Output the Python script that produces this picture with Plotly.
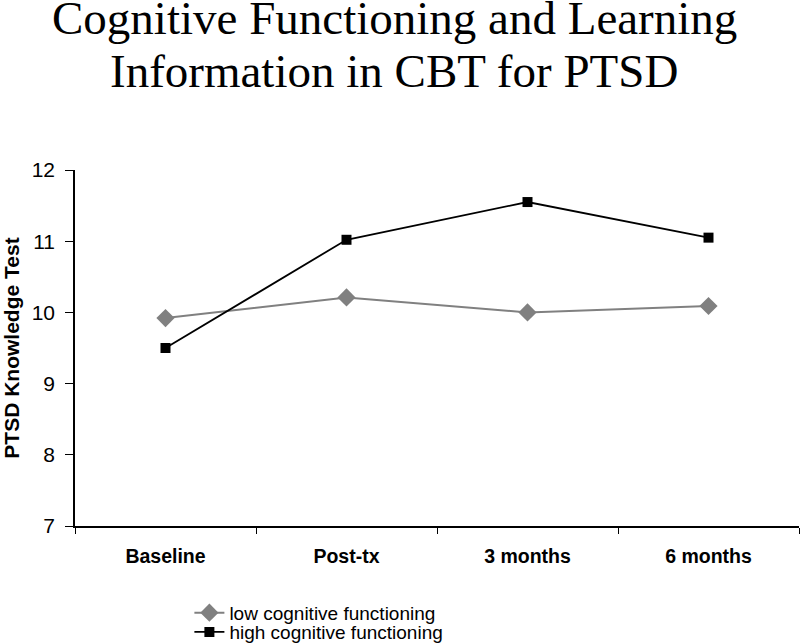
"""PTSD知識テストの推移グラフ。"""

import plotly.graph_objects as go

categories = ["Baseline", "Post-tx", "3 months", "6 months"]
low_cognitive = [9.92, 10.21, 10.00, 10.09]
high_cognitive = [9.50, 11.02, 11.55, 11.05]
y_ticks = [7, 8, 9, 10, 11, 12]
title_lines = ["Cognitive Functioning and Learning", "Information in CBT for PTSD"]

SANS = "Liberation Sans, Arial, sans-serif"
SERIF = "Liberation Serif, Times New Roman, serif"

fig = go.Figure()

fig.add_trace(
    go.Scatter(
        x=categories,
        y=low_cognitive,
        name="low cognitive functioning",
        mode="lines+markers",
        line=dict(color="#808080", width=2),
        marker=dict(symbol="diamond", size=14, color="#808080"),
        legend="legend",
    )
)
fig.add_trace(
    go.Scatter(
        x=categories,
        y=high_cognitive,
        name="high cognitive functioning",
        mode="lines+markers",
        line=dict(color="#000000", width=1.8),
        marker=dict(symbol="square", size=10, color="#000000"),
        legend="legend2",
    )
)

# タイトル: 行間を合わせるため1行ずつ注釈で配置
for text, ypos in zip(title_lines, [1.505, 1.356]):
    fig.add_annotation(
        text=text,
        xref="paper",
        yref="paper",
        x=0.441,
        y=ypos,
        xanchor="center",
        yanchor="top",
        showarrow=False,
        font=dict(family=SERIF, size=47, color="black"),
    )

legend_common = dict(
    x=0.158,
    xanchor="left",
    yanchor="middle",
    font=dict(family=SANS, size=19, color="black"),
    itemwidth=30,
    bgcolor="rgba(0,0,0,0)",
)

fig.update_layout(
    width=800,
    height=643,
    paper_bgcolor="white",
    plot_bgcolor="white",
    margin=dict(l=75, r=1, t=170, b=117, autoexpand=False),
    xaxis=dict(
        type="category",
        range=[-0.5, 3.5],
        automargin=False,
        tickangle=0,
        showline=True,
        linecolor="black",
        linewidth=1.5,
        ticks="outside",
        tickson="boundaries",
        ticklen=6,
        tickcolor="black",
        ticklabelstandoff=12,
        showgrid=False,
        tickfont=dict(family=SANS, size=19.5, color="black", weight="bold"),
    ),
    yaxis=dict(
        range=[7, 12],
        tickvals=y_ticks,
        automargin=False,
        showline=True,
        linecolor="black",
        linewidth=1.5,
        ticks="outside",
        ticklen=8,
        tickcolor="black",
        ticklabelstandoff=6,
        showgrid=False,
        zeroline=False,
        tickfont=dict(family=SANS, size=21, color="black"),
        title=dict(
            text="<b>PTSD Knowledge Test</b>",
            font=dict(family=SANS, size=21, color="black"),
            standoff=24,
        ),
    ),
    legend=dict(y=-0.244, **legend_common),
    legend2=dict(y=-0.298, **legend_common),
    showlegend=True,
)

fig.write_html(
    "out.html",
    config={"displayModeBar": False},
    post_script="document.body.style.margin = '0';",
)
